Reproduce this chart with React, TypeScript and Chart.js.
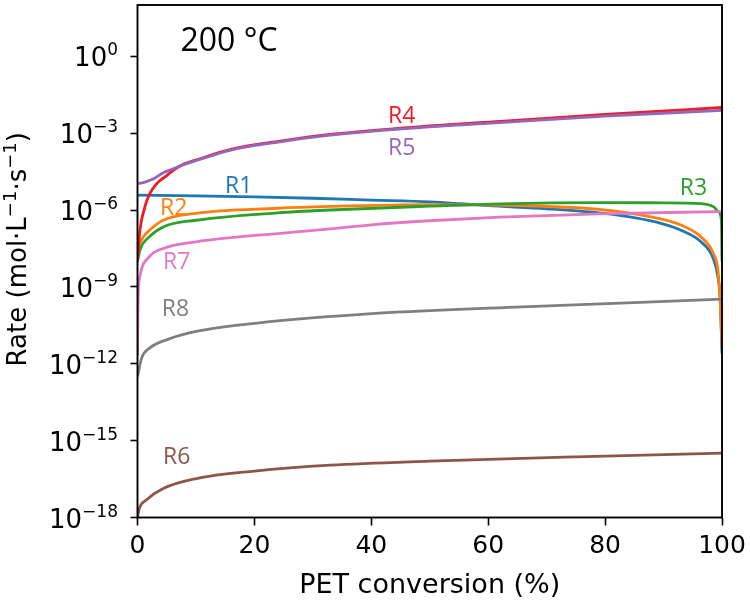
import { useEffect, useRef } from 'react';
import { Chart, registerables } from 'chart.js';

Chart.register(...registerables);

// PET conversion (%) and reaction rate (mol·L⁻¹·s⁻¹) for each reaction at 200 °C
const r1Conv = [0, 10, 20, 30, 40, 50, 60, 70, 79, 85, 90, 93, 96.4, 98.5, 99.3, 99.7, 100];
const r1Rate = [3.8e-6, 3.55e-6, 3.24e-6, 2.88e-6, 2.45e-6, 2.09e-6, 1.48e-6, 1.12e-6, 7.76e-7, 5.01e-7, 2.82e-7, 1.62e-7, 5.75e-8, 1.29e-8, 2.45e-9, 3.16e-10, 2.51e-12];

const r2Conv = [0, 0.4, 1, 2, 4.4, 10, 24, 33, 50, 62, 79, 87.8, 93, 96.4, 98.5, 99.3, 99.7, 100];
const r2Rate = [2.51e-8, 5.01e-8, 8.91e-8, 1.58e-7, 3.98e-7, 7.41e-7, 1.17e-6, 1.38e-6, 1.62e-6, 1.55e-6, 1.05e-6, 5.37e-7, 2.57e-7, 8.91e-8, 2.04e-8, 4.47e-9, 2.29e-10, 4.57e-12];

const r3Conv = [0, 0.4, 2, 4.4, 10, 24, 33, 50, 62, 79, 90, 96.4, 98.6, 99.4, 99.9, 100];
const r3Rate = [1.0e-8, 2.69e-8, 8.91e-8, 2.19e-7, 3.98e-7, 7.76e-7, 1.0e-6, 1.41e-6, 1.74e-6, 1.95e-6, 1.91e-6, 1.78e-6, 1.32e-6, 8.51e-7, 3.98e-7, 1.0e-8];

const r4Conv = [0, 0.15, 0.3, 0.6, 1, 1.5, 2.1, 3, 3.8, 5, 6.1, 8, 10.1, 15.8, 24.4, 33, 50, 62, 80, 100];
const r4Rate = [1e-8, 2.51e-8, 8.91e-8, 3.16e-7, 7.94e-7, 2.0e-6, 4.37e-6, 8.91e-6, 1.38e-5, 2.19e-5, 3.55e-5, 6.31e-5, 9.12e-5, 2.29e-4, 4.9e-4, 8.91e-4, 1.91e-3, 2.88e-3, 5.37e-3, 1.0e-2];

const r5Conv = [0, 1, 2, 3, 4.4, 6, 8, 10.2, 15.8, 24.4, 33, 50, 62, 80, 100];
const r5Rate = [1.07e-5, 1.17e-5, 1.41e-5, 1.78e-5, 2.82e-5, 3.98e-5, 6.03e-5, 8.71e-5, 2.14e-4, 4.57e-4, 8.32e-4, 1.74e-3, 2.57e-3, 4.57e-3, 7.76e-3];

const r6Conv = [0, 0.3, 1.5, 4.4, 10.1, 20, 33, 50, 75, 100];
const r6Rate = [1e-18, 2.24e-18, 4.79e-18, 1.35e-17, 3.31e-17, 6.46e-17, 1.1e-16, 1.58e-16, 2.34e-16, 3.24e-16];

const r7Conv = [0, 0.1, 0.4, 2, 4.4, 10, 16, 24, 33, 40, 50, 62, 79, 100];
const r7Rate = [2.0e-12, 3.16e-10, 2.51e-9, 1.48e-8, 3.16e-8, 5.75e-8, 8.32e-8, 1.2e-7, 1.82e-7, 2.63e-7, 3.8e-7, 5.25e-7, 7.08e-7, 8.71e-7];

const r8Conv = [0, 0.7, 2, 5.3, 10, 18.4, 38.3, 64.7, 100];
const r8Rate = [3.16e-13, 1.66e-12, 3.98e-12, 9.12e-12, 1.82e-11, 3.47e-11, 8.51e-11, 1.62e-10, 3.31e-10];

const seriesNames = ['R1', 'R2', 'R3', 'R4', 'R5', 'R6', 'R7', 'R8'];
const seriesConv = [r1Conv, r2Conv, r3Conv, r4Conv, r5Conv, r6Conv, r7Conv, r8Conv];
const seriesRate = [r1Rate, r2Rate, r3Rate, r4Rate, r5Rate, r6Rate, r7Rate, r8Rate];
const seriesColors = ['#1f77b4', '#ff7f0e', '#2ca02c', '#ee1c24', '#9467bd', '#8c564b', '#e377c2', '#7f7f7f'];

// where each series name sits (conversion %, rate)
const labelConv = [17.3, 6.2, 95.1, 45.2, 45.2, 6.7, 6.7, 6.5];
const labelRate = [8.5e-6, 1.12e-6, 6.8e-6, 4.6e-3, 2.45e-4, 2.3e-16, 9.3e-9, 1.35e-10];

const xTickValues = [0, 20, 40, 60, 80, 100];
const yTickExponents = [0, -3, -6, -9, -12, -15, -18];

const FONT = '"DejaVu Sans"';

// draws "10" with a raised exponent, right-aligned at x
function drawPowerOfTen(ctx: CanvasRenderingContext2D, exponent: number, right: number, y: number) {
  const exp = exponent < 0 ? '\u2212' + String(-exponent) : String(exponent);
  ctx.font = `17px ${FONT}`;
  const expWidth = ctx.measureText(exp).width;
  ctx.font = `26px ${FONT}`;
  const baseWidth = ctx.measureText('10').width;
  const left = right - expWidth - baseWidth;
  ctx.textAlign = 'left';
  ctx.textBaseline = 'alphabetic';
  ctx.fillText('10', left, y + 10);
  ctx.font = `17px ${FONT}`;
  ctx.fillText(exp, left + baseWidth, y - 1);
}

const axisDecorations = {
  id: 'axisDecorations',
  afterDatasetsDraw(chart: any) {
    const { ctx, chartArea, scales } = chart;
    ctx.save();
    ctx.strokeStyle = '#000';
    ctx.lineWidth = 1.9;
    ctx.strokeRect(chartArea.left, chartArea.top, chartArea.right - chartArea.left, chartArea.bottom - chartArea.top);

    // series names
    ctx.textAlign = 'center';
    ctx.textBaseline = 'middle';
    ctx.font = '23px "Open Sans"';
    seriesNames.forEach((name, i) => {
      ctx.fillStyle = seriesColors[i];
      ctx.fillText(name, scales.x.getPixelForValue(labelConv[i]), scales.y.getPixelForValue(labelRate[i]));
    });

    ctx.fillStyle = '#000';
    ctx.font = '32px "Open Sans"';
    ctx.textAlign = 'left';
    ctx.fillText('200 °C', chartArea.left + 43, chartArea.top + 37);

    // y tick labels
    const tickRight = chartArea.left - 19.5;
    yTickExponents.forEach((e) => {
      drawPowerOfTen(ctx, e, tickRight, scales.y.getPixelForValue(Math.pow(10, e)));
    });

    // y axis title with raised exponents
    const parts: [string, boolean][] = [
      ['Rate (mol·L', false],
      ['\u22121', true],
      ['·s', false],
      ['\u22121', true],
      [')', false],
    ];
    const baseFont = `26px ${FONT}`;
    const supFont = `18px ${FONT}`;
    let total = 0;
    parts.forEach(([t, sup]) => {
      ctx.font = sup ? supFont : baseFont;
      total += ctx.measureText(t).width;
    });
    ctx.translate(25.5, (chartArea.top + chartArea.bottom) / 2 - 12);
    ctx.rotate(-Math.PI / 2);
    ctx.textBaseline = 'alphabetic';
    ctx.textAlign = 'left';
    let x = -total / 2;
    parts.forEach(([t, sup]) => {
      ctx.font = sup ? supFont : baseFont;
      ctx.fillText(t, x, sup ? -10 : 0);
      x += ctx.measureText(t).width;
    });
    ctx.restore();
  },
};

export default function App() {
  const canvasRef = useRef<HTMLCanvasElement>(null);

  useEffect(() => {
    const canvas = canvasRef.current;
    if (!canvas) return;

    const datasets = seriesNames.map((name, i) => ({
      label: name,
      data: seriesConv[i].map((x, j) => ({ x, y: seriesRate[i][j] })),
      borderColor: seriesColors[i],
      backgroundColor: seriesColors[i],
      borderWidth: 2.8,
      pointRadius: 0,
      cubicInterpolationMode: 'monotone' as const,
      fill: false,
      order: -i,
    }));

    const chart = new Chart(canvas, {
      type: 'line',
      data: { datasets },
      options: {
        animation: false,
        responsive: false,
        devicePixelRatio: 1,
        layout: { padding: { top: 5, right: 28, left: 0, bottom: 0 } },
        plugins: { legend: { display: false }, tooltip: { enabled: false } },
        scales: {
          x: {
            type: 'linear',
            min: 0,
            max: 100,
            afterBuildTicks: (scale: any) => {
              scale.ticks = xTickValues.map((value) => ({ value }));
            },
            afterFit: (scale: any) => {
              scale.height = 84.5;
              scale.paddingLeft = 0;
              scale.paddingRight = 0;
            },
            ticks: { font: { family: 'DejaVu Sans', size: 25 }, color: '#000', padding: 6, maxRotation: 0, autoSkip: false },
            grid: { display: true, drawOnChartArea: false, drawTicks: true, tickLength: 8, tickWidth: 1.6, tickColor: '#000' },
            border: { display: false },
            title: {
              display: true,
              text: 'PET conversion (%)',
              font: { family: 'DejaVu Sans', size: 27 },
              color: '#000',
              padding: { top: 0, bottom: 0 },
            },
          },
          y: {
            type: 'logarithmic',
            min: 1e-18,
            max: 1e2,
            afterBuildTicks: (scale: any) => {
              scale.ticks = yTickExponents.map((e) => ({ value: Math.pow(10, e) }));
            },
            afterFit: (scale: any) => {
              scale.width = 137.5;
              scale.paddingTop = 0;
              scale.paddingBottom = 0;
            },
            ticks: { display: false },
            grid: { display: true, drawOnChartArea: false, drawTicks: true, tickLength: 7, tickWidth: 1.6, tickColor: '#000' },
            border: { display: false },
            title: { display: false },
          },
        },
      },
      plugins: [axisDecorations],
    });

    return () => chart.destroy();
  }, []);

  return (
    <div style={{ position: 'fixed', left: 0, top: 0, width: 750, height: 602, background: '#fff' }}>
      <canvas ref={canvasRef} width={750} height={602} style={{ display: 'block' }} />
    </div>
  );
}
